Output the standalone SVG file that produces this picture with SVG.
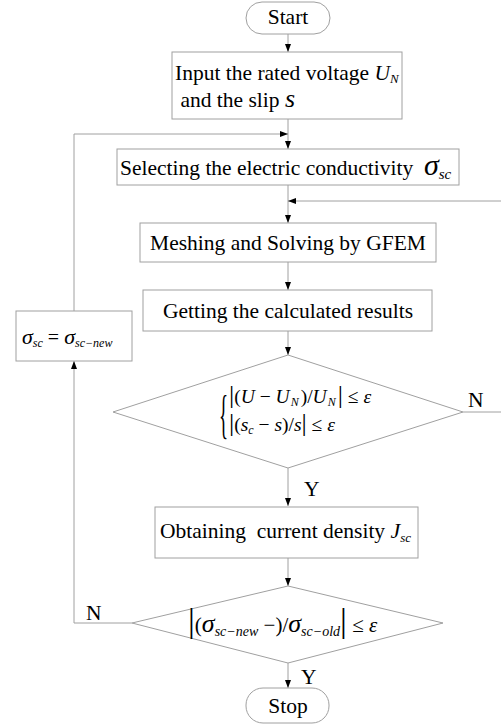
<svg xmlns="http://www.w3.org/2000/svg" width="501" height="725" viewBox="0 0 501 725">
<style>
.box{fill:#fff;stroke:#a0a0a0;stroke-width:1}
.ln{fill:none;stroke:#a0a0a0;stroke-width:1}
text{font-family:"Liberation Serif","Times New Roman",serif;fill:#000}
.t{font-size:21.5px}
.c{text-anchor:middle}
.it{font-style:italic}
.pre{white-space:pre}
</style>
<defs>
<marker id="ah" markerUnits="userSpaceOnUse" markerWidth="8" markerHeight="8" viewBox="0 0 8 8" refX="8" refY="4" orient="auto">
<path d="M0,1 L8,4 L0,7 Z" fill="#000"/>
</marker>
</defs>
<rect width="501" height="725" fill="#fff"/>
<g id="connectors">
<line class="ln" x1="288" y1="34" x2="288" y2="52" marker-end="url(#ah)"/>
<line class="ln" x1="288" y1="119" x2="288" y2="149" marker-end="url(#ah)"/>
<line class="ln" x1="288" y1="185" x2="288" y2="223" marker-end="url(#ah)"/>
<line class="ln" x1="288" y1="262" x2="288" y2="290" marker-end="url(#ah)"/>
<line class="ln" x1="288" y1="331" x2="288" y2="355" marker-end="url(#ah)"/>
<line class="ln" x1="288" y1="468" x2="288" y2="506" marker-end="url(#ah)"/>
<line class="ln" x1="288" y1="558" x2="288" y2="586" marker-end="url(#ah)"/>
<line class="ln" x1="288" y1="663" x2="288" y2="688" marker-end="url(#ah)"/>
<polyline class="ln" points="132,623 74,623 74,361" marker-end="url(#ah)"/>
<polyline class="ln" points="74,311 74,134 288,134" marker-end="url(#ah)"/>
<line class="ln" x1="463" y1="412" x2="501" y2="412"/>
<line class="ln" x1="501" y1="201" x2="288" y2="201" marker-end="url(#ah)"/>
<text class="t" x="468" y="407">N</text>
<text class="t" x="304" y="496">Y</text>
<text class="t" x="86" y="620">N</text>
<text class="t" x="301" y="684">Y</text>
</g>
<g id="start">
<rect class="box" x="246" y="2" width="84" height="32" rx="16" ry="16"/>
<text class="t c" x="288" y="24">Start</text>
</g>
<g id="input">
<rect class="box" x="172" y="52" width="230" height="67"/>
<text class="t" x="175" y="80">Input the rated voltage <tspan class="it">U</tspan><tspan class="it" font-size="13" dy="3">N</tspan></text>
<text class="t pre" x="175" y="107"> and the slip <tspan class="it" font-size="26">s</tspan></text>
</g>
<g id="select">
<rect class="box" x="117" y="149" width="342" height="36"/>
<text class="t pre" x="120" y="175">Selecting the electric conductivity  <tspan class="it" font-size="30">σ</tspan><tspan class="it" font-size="15" dy="4">sc</tspan></text>
</g>
<g id="mesh">
<rect class="box" x="140" y="223" width="296" height="39"/>
<text class="t c" x="288" y="250">Meshing and Solving by GFEM</text>
</g>
<g id="getting">
<rect class="box" x="143" y="290" width="289" height="41"/>
<text class="t c" x="288" y="318">Getting the calculated results</text>
</g>
<g id="update">
<rect class="box" x="16" y="311" width="116" height="50"/>
<text x="22" y="344" font-size="20"><tspan class="it" font-size="22">σ</tspan><tspan class="it" font-size="12" dy="3">sc</tspan><tspan dy="-3"> = </tspan><tspan class="it" font-size="22">σ</tspan><tspan class="it" font-size="12" dy="3">sc−new</tspan></text>
</g>
<g id="check1">
<polygon class="box" points="288,355 463,412 288,468 113,412"/>
<text x="219" y="432" font-size="42" transform="translate(219,432) scale(0.45,1.25) translate(-219,-432)">{</text>
<text x="229" y="403" font-size="19.5"><tspan font-size="26">|</tspan>(<tspan class="it">U</tspan> − <tspan class="it">U</tspan><tspan class="it" font-size="12" dy="3" dx="1">N</tspan><tspan dy="-3" dx="2">)/</tspan><tspan class="it">U</tspan><tspan class="it" font-size="12" dy="3" dx="1">N</tspan><tspan dy="-3" dx="2" font-size="26">|</tspan> ≤ <tspan class="it">ε</tspan></text>
<text x="229" y="431" font-size="19.5"><tspan font-size="26">|</tspan>(<tspan class="it">s</tspan><tspan class="it" font-size="12" dy="3">c</tspan><tspan dy="-3"> − </tspan><tspan class="it">s</tspan>)/<tspan class="it">s</tspan><tspan font-size="26">|</tspan> ≤ <tspan class="it">ε</tspan></text>
</g>
<g id="obtain">
<rect class="box" x="155" y="507" width="263" height="51"/>
<text class="t pre" x="160" y="538">Obtaining  current density <tspan class="it" font-size="22">J</tspan><tspan class="it" font-size="13" dy="4">sc</tspan></text>
</g>
<g id="check2">
<polygon class="box" points="288,586 443,623 288,663 132,623"/>
<text x="188" y="632" font-size="21"><tspan font-size="34">|</tspan>(<tspan class="it" font-size="26">σ</tspan><tspan class="it" font-size="14" dy="4">sc−new</tspan><tspan dy="-4"> −)/</tspan><tspan class="it" font-size="26">σ</tspan><tspan class="it" font-size="14" dy="4">sc−old</tspan><tspan dy="-4" font-size="34">|</tspan> ≤ <tspan class="it">ε</tspan></text>
</g>
<g id="stop">
<rect class="box" x="246" y="688" width="83" height="35" rx="17" ry="17"/>
<text class="t c" x="288" y="713">Stop</text>
</g>
</svg>
